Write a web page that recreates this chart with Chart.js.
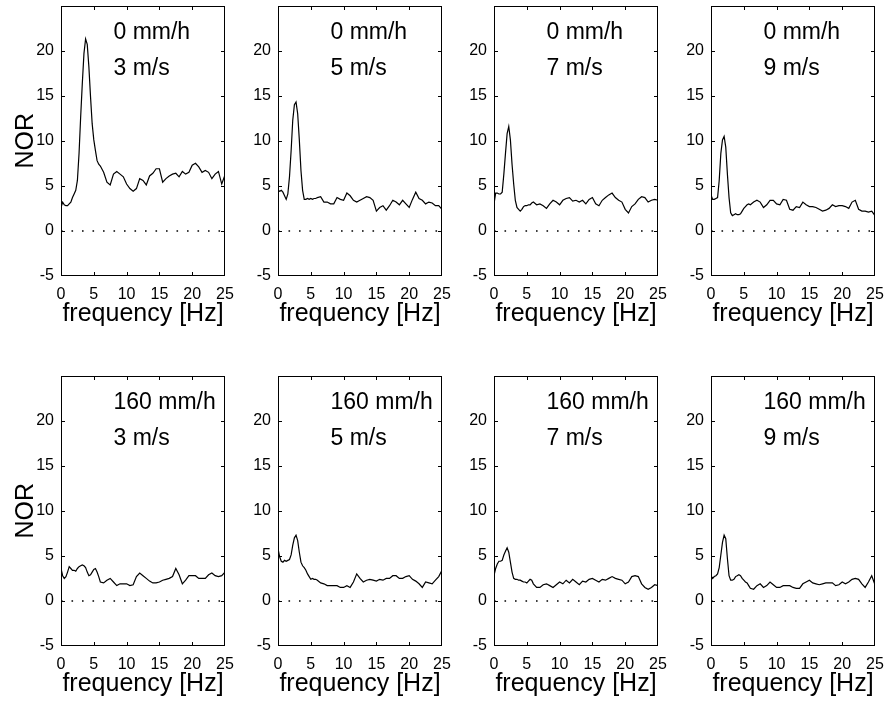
<!DOCTYPE html>
<html><head><meta charset="utf-8">
<script src="https://cdn.jsdelivr.net/npm/chart.js@4"></script>
<style>
html,body{margin:0;padding:0;background:#fff;overflow:hidden;width:886px;height:701px;}
.panel{position:absolute;}
canvas{display:block;}
</style></head><body>
<script>
// ---------- data ----------
const freq = [0,0.25,0.5,0.75,1,1.25,1.5,1.75,2,2.25,2.5,2.75,3,3.25,3.5,3.75,4,4.25,4.5,4.75,5,5.25,5.5,5.75,6,
  6.5,7,7.5,8,8.5,9,9.5,10,10.5,11,11.5,12,12.5,13,13.5,14,14.5,15,15.5,16,16.5,17,17.5,18,18.5,19,19.5,20,20.5,21,21.5,22,22.5,23,23.5,24,24.5,25];

const nor_0mm_3ms = [2.6,3.2,2.9,2.8,2.8,3.0,3.2,3.7,4.1,4.5,5.6,8.6,12.7,16.4,19.7,21.3,20.7,18.2,14.9,11.9,10.1,8.9,7.8,7.4,7.2,
  6.5,5.4,5.1,6.3,6.6,6.3,6.0,5.2,4.7,4.4,4.7,5.8,5.6,5.1,6.1,6.4,6.9,6.9,5.4,5.8,6.1,6.3,6.4,6.0,6.6,6.3,6.5,7.3,7.5,7.1,6.5,6.7,6.5,5.8,6.3,6.6,5.2,6.2];
const nor_0mm_5ms = [4.5,4.4,4.5,4.3,3.9,3.5,4.1,6.0,8.9,12.3,14.0,14.3,13.0,10.1,6.7,4.5,3.5,3.5,3.6,3.5,3.6,3.5,3.6,3.6,3.7,
  3.8,3.2,3.2,3.0,3.0,3.7,3.5,3.4,4.2,3.9,3.4,3.2,3.4,3.6,3.8,3.7,3.4,2.2,2.6,2.8,2.3,2.8,3.4,3.2,2.9,3.4,3.0,2.6,3.5,4.3,3.6,3.4,3.0,3.2,3.1,2.8,2.8,2.4];
const nor_0mm_7ms = [3.0,4.2,4.2,4.1,4.1,4.3,6.3,8.6,10.8,11.6,10.1,7.4,5.2,3.4,2.6,2.4,2.2,2.4,2.7,2.8,2.8,2.9,2.9,3.1,3.2,
  2.9,3.0,2.8,2.5,3.0,3.4,3.2,2.9,3.4,3.6,3.7,3.3,3.4,3.2,3.4,3.0,3.5,3.7,3.0,2.8,3.4,3.7,4.0,4.2,3.7,3.4,3.2,2.4,2.0,2.7,3.0,3.5,3.8,3.7,3.2,3.4,3.5,3.4];
const nor_0mm_9ms = [4.0,3.5,3.5,3.6,3.7,5.6,8.6,10.1,10.5,9.3,6.3,3.7,2.0,1.7,1.8,1.9,1.8,1.8,1.9,2.2,2.5,2.7,2.9,3.0,2.9,
  3.2,3.4,3.2,2.6,2.9,3.4,3.4,3.0,2.9,3.5,3.4,2.4,2.3,2.7,2.6,3.2,2.9,2.7,2.7,2.6,2.4,2.2,2.3,2.5,2.9,2.7,2.8,2.8,2.7,2.5,3.2,3.4,2.4,2.2,2.2,2.1,2.2,1.7];
const nor_160mm_3ms = [3.6,2.8,2.5,2.7,3.2,3.8,3.6,3.4,3.4,3.3,3.6,3.8,3.9,4.0,3.9,3.7,3.2,2.8,2.9,3.2,3.5,3.6,3.2,2.7,2.1,
  2.0,2.3,2.5,2.1,1.7,1.9,1.9,1.9,1.7,1.8,2.7,3.1,2.8,2.5,2.2,2.0,2.0,2.1,2.3,2.4,2.5,2.7,3.6,2.9,1.9,2.3,2.8,2.8,2.8,2.5,2.5,2.5,2.9,3.1,2.8,2.7,2.8,3.2];
const nor_160mm_5ms = [5.8,4.9,4.4,4.3,4.5,4.4,4.5,4.6,5.1,6.2,7.0,7.3,6.7,5.4,4.3,3.9,3.7,3.4,3.0,2.7,2.4,2.5,2.4,2.4,2.3,
  2.0,1.9,1.7,1.7,1.7,1.7,1.5,1.5,1.7,1.5,2.1,3.0,2.5,2.1,2.3,2.4,2.3,2.2,2.4,2.3,2.5,2.5,2.8,2.8,2.5,2.5,2.7,2.8,2.4,2.2,1.9,1.5,2.1,2.0,1.9,2.3,2.7,3.4];
const nor_160mm_7ms = [2.8,3.6,4.1,4.4,4.4,4.5,5.1,5.5,5.9,5.4,4.3,3.2,2.5,2.4,2.4,2.3,2.3,2.2,2.1,2.1,2.0,2.2,2.4,2.3,1.9,
  1.5,1.5,1.8,1.9,1.7,1.5,1.8,2.1,1.9,2.3,2.0,2.4,2.1,1.8,2.2,2.1,2.4,2.5,2.3,2.1,2.4,2.3,2.5,2.7,2.5,2.4,2.3,1.9,2.1,2.7,2.8,2.7,1.9,1.5,1.3,1.5,1.8,1.7];
const nor_160mm_9ms = [2.8,2.5,2.7,2.8,3.0,3.7,5.1,6.5,7.3,6.9,4.7,2.8,2.3,2.3,2.4,2.7,2.8,2.9,2.8,2.5,2.3,2.1,2.0,1.7,1.4,
  1.3,1.7,1.9,1.5,1.7,2.1,1.8,1.5,1.5,1.7,1.7,1.7,1.5,1.4,1.4,1.9,2.1,2.3,2.0,1.9,1.8,1.9,2.0,2.0,2.0,1.7,1.8,2.1,1.9,2.1,2.4,2.5,2.4,1.9,1.5,2.1,2.8,1.8];

const rainRates = ['0 mm/h', '160 mm/h'];
const windSpeeds = ['3 m/s', '5 m/s', '7 m/s', '9 m/s'];
const xTicks = [0, 5, 10, 15, 20, 25];
const yTicks = [-5, 0, 5, 10, 15, 20];
const xRange = [0, 25];
const yRange = [-5, 25];
const labelPos = {x: 8, yRain: 22, yWind: 18};
const xTitle = 'frequency [Hz]';
const yTitle = 'NOR';

const seriesGrid = [
  [nor_0mm_3ms, nor_0mm_5ms, nor_0mm_7ms, nor_0mm_9ms],
  [nor_160mm_3ms, nor_160mm_5ms, nor_160mm_7ms, nor_160mm_9ms]
];

// ---------- layout ----------
const FONT = '"Liberation Sans", Arial, Helvetica, sans-serif';
const colLeft = [61, 278, 494, 711];
const rowTop = [6, 376];
const PLOT_W = 164, PLOT_H = 270;
const X_AXIS_H = 56;

const framePlugin = {
  id: 'frame',
  afterDraw(chart) {
    const {ctx, chartArea: a, scales: {x, y}} = chart;
    const opts = chart.options.plugins.frame;
    const L = Math.round(a.left), R = Math.round(a.right), T = Math.round(a.top), B = Math.round(a.bottom);
    ctx.save();
    ctx.strokeStyle = '#000';
    ctx.lineWidth = 1;
    ctx.strokeRect(L + 0.5, T + 0.5, R - L - 1, B - T - 1);
    ctx.beginPath();
    const tl = 4;
    xTicks.forEach(v => {
      if (v === xRange[0] || v === xRange[1]) return;
      const px = Math.round(x.getPixelForValue(v)) + 0.5;
      ctx.moveTo(px, B); ctx.lineTo(px, B - tl);
      ctx.moveTo(px, T); ctx.lineTo(px, T + tl);
    });
    yTicks.forEach(v => {
      if (v === yRange[0] || v === yRange[1]) return;
      const py = Math.round(y.getPixelForValue(v)) + 0.5;
      ctx.moveTo(L, py); ctx.lineTo(L + tl, py);
      ctx.moveTo(R, py); ctx.lineTo(R - tl, py);
    });
    ctx.stroke();
    // annotations
    ctx.fillStyle = '#000';
    ctx.font = '23px ' + FONT;
    ctx.textAlign = 'left';
    ctx.textBaseline = 'middle';
    ctx.fillText(opts.rain, x.getPixelForValue(labelPos.x), y.getPixelForValue(labelPos.yRain));
    ctx.fillText(opts.wind, x.getPixelForValue(labelPos.x), y.getPixelForValue(labelPos.yWind));
    ctx.restore();
  }
};

function build(cv, r, c, W, H) {
  cv.width = W; cv.height = H;
  cv.style.width = W + 'px'; cv.style.height = H + 'px';
  const vals = seriesGrid[r][c];
  const pts = freq.map((f, i) => ({x: f, y: vals[i]}));
  const yW = c === 0 ? 61 : 50;
  return new Chart(cv, {
    type: 'line',
    data: {
      datasets: [
        {data: pts, borderColor: '#000', borderWidth: 1.2, pointRadius: 0, tension: 0, fill: false},
        {data: [{x: xRange[0], y: 0}, {x: xRange[1], y: 0}], borderColor: '#000', borderWidth: 1.5,
         borderDash: [1.6, 8.9], pointRadius: 0, fill: false}
      ]
    },
    options: {
      responsive: false,
      maintainAspectRatio: false,
      animation: false,
      events: [],
      layout: {padding: {top: 12, right: 18, left: 0, bottom: 0}},
      plugins: {
        legend: {display: false},
        tooltip: {enabled: false},
        frame: {rain: rainRates[r], wind: windSpeeds[c]}
      },
      scales: {
        x: {
          type: 'linear', min: xRange[0], max: xRange[1],
          grid: {display: false, drawTicks: false},
          border: {display: false},
          ticks: {stepSize: 5, padding: 9, color: '#000', font: {size: 16, family: FONT}, maxRotation: 0, autoSkip: false},
          afterBuildTicks: s => { s.ticks = xTicks.map(v => ({value: v})); },
          afterFit: s => { s.height = X_AXIS_H; },
          title: {display: true, text: xTitle, color: '#000', font: {size: 25, family: FONT}, padding: {top: 0, bottom: 3}}
        },
        y: {
          type: 'linear', min: yRange[0], max: yRange[1],
          grid: {display: false, drawTicks: false},
          border: {display: false},
          ticks: {stepSize: 5, padding: 7, color: '#000', font: {size: 16, family: FONT}, autoSkip: false},
          afterBuildTicks: s => { s.ticks = yTicks.map(v => ({value: v})); },
          afterFit: s => { s.width = yW; },
          title: {display: c === 0, text: yTitle, color: '#000', font: {size: 25, family: FONT}, padding: {top: 11, bottom: 0}}
        }
      }
    },
    plugins: [framePlugin]
  });
}

function makePanel(r, c) {
  const wrap = document.createElement('div');
  wrap.className = 'panel';
  document.body.appendChild(wrap);
  const cv = document.createElement('canvas');
  wrap.appendChild(cv);
  let W = (c === 0 ? 61 : 50) + PLOT_W + 18;
  let H = 14 + PLOT_H + X_AXIS_H;
  let chart = build(cv, r, c, W, H);
  let a = chart.chartArea;
  const dw = PLOT_W - (a.right - a.left), dh = PLOT_H - (a.bottom - a.top);
  if (Math.abs(dw) > 0.01 || Math.abs(dh) > 0.01) {
    chart.destroy();
    W = Math.round(W + dw); H = Math.round(H + dh);
    chart = build(cv, r, c, W, H);
    a = chart.chartArea;
  }
  wrap.style.left = Math.round(colLeft[c] - a.left) + 'px';
  wrap.style.top = Math.round(rowTop[r] - a.top) + 'px';
}

for (let r = 0; r < 2; r++) for (let c = 0; c < 4; c++) makePanel(r, c);
</script>
</body></html>
